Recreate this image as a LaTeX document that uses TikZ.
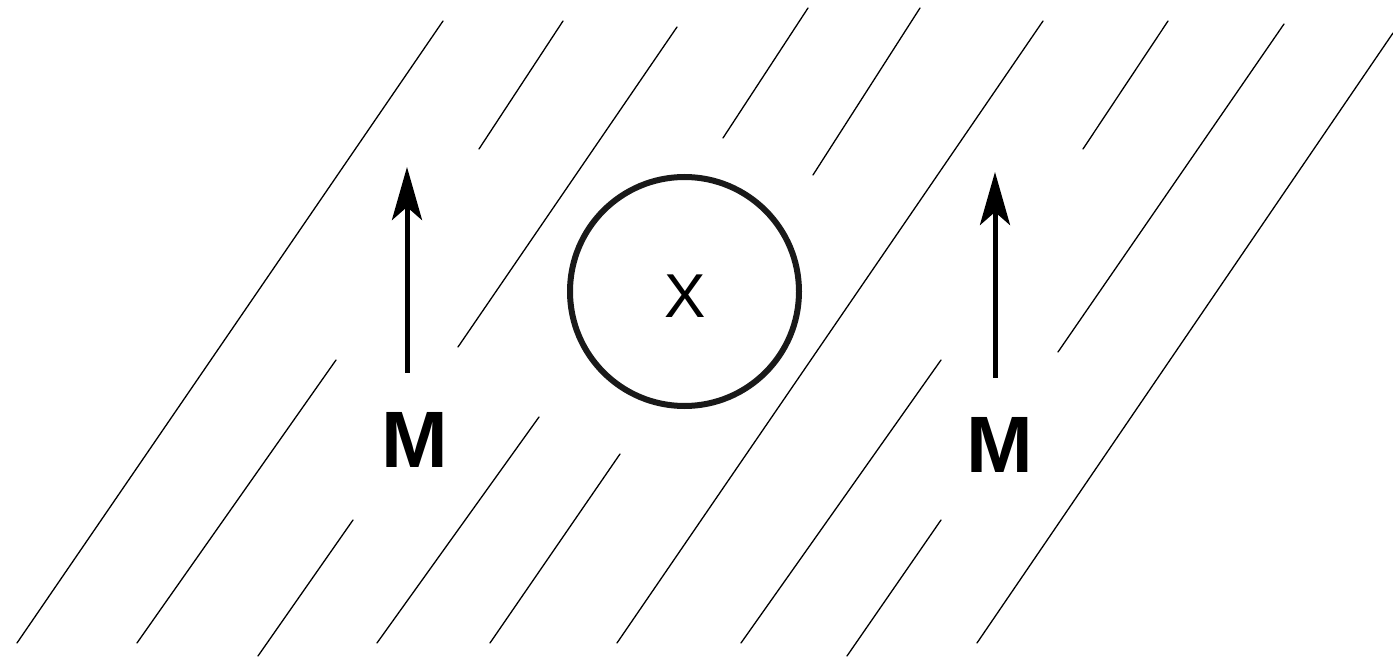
\documentclass[tikz,border=0pt]{standalone}
\usepackage{fontspec}
\setmainfont{Liberation Sans}
\usetikzlibrary{arrows.meta}
\tikzset{
  hatch/.style={line width=1.3pt, black, line cap=round},
  ring/.style={circle, draw=black!90, line width=6pt, fill=white, minimum size=229pt, inner sep=0pt},
  magarrow/.style={line width=5pt, -{Stealth[length=53pt, width=30pt, inset=13pt]}},
  mlabel/.style={anchor=base, inner sep=0pt, font=\fontsize{80}{80}\selectfont\bfseries},
  xlabel/.style={anchor=base, inner sep=0pt, font=\fontsize{62}{62}\selectfont}
}
\begin{document}
\begin{tikzpicture}[x=1pt, y=-1pt]
\useasboundingbox (0,0) rectangle (1393,660);
% hatching lines
\draw[hatch] (443,21) -- (17,643);
\draw[hatch] (563,21) -- (479,149);
\draw[hatch] (677,27) -- (458,347);
\draw[hatch] (808,8) -- (723,138);
\draw[hatch] (920,8) -- (813,175);
\draw[hatch] (1043,21) -- (617,643);
\draw[hatch] (1168,21) -- (1083,149);
\draw[hatch] (1284,24) -- (1058,352);
\draw[hatch] (1393,33) -- (977,643);
\draw[hatch] (336,360) -- (137,643);
\draw[hatch] (353,520) -- (258,656);
\draw[hatch] (539,417) -- (377,643);
\draw[hatch] (620,454) -- (490,643);
\draw[hatch] (941,360) -- (741,643);
\draw[hatch] (941,520) -- (847,656);
% circle with X
\node[ring] (ringnode) at (684.5,291.5) {};
\node[xlabel] (xtext) at (685,318) {X};
% arrows
\coordinate (a1s) at (407,373);
\coordinate (a1e) at (407,167);
\coordinate (a2s) at (995,378);
\coordinate (a2e) at (995,172);
\draw[magarrow] (a1s) -- (a1e);
\draw[magarrow] (a2s) -- (a2e);
% labels
\node[mlabel] (m1) at (414.5,467) {M};
\node[mlabel] (m2) at (999.5,472) {M};
\end{tikzpicture}
\end{document}
